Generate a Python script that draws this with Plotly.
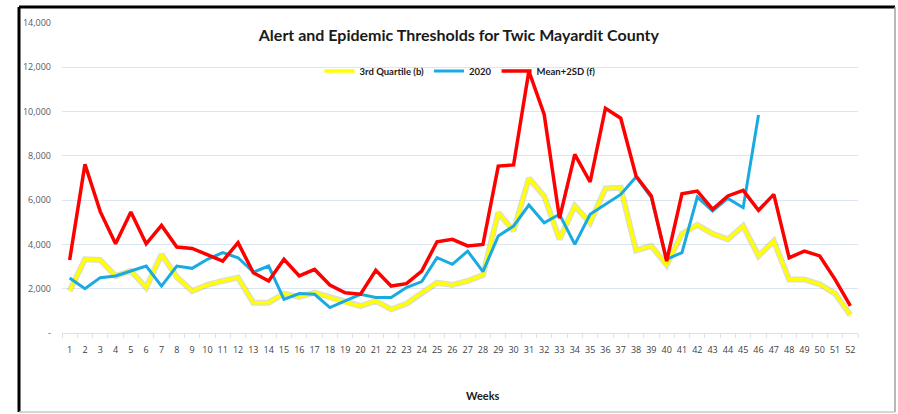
import plotly.graph_objects as go

weeks = list(range(1, 53))
week_labels = [str(w) for w in weeks]

third_quartile = [1900, 3330, 3300, 2575, 2800, 2050, 3550, 2530, 1900, 2170,
                  2350, 2500, 1370, 1370, 1780, 1630, 1820, 1600, 1370, 1220,
                  1450, 1070, 1320, 1820, 2270, 2170, 2350, 2620, 5430, 4610,
                  6990, 6190, 4230, 5740, 4980, 6530, 6560, 3730, 3930, 3070,
                  4480, 4880, 4480, 4230, 4830, 3480, 4150, 2420, 2420, 2200,
                  1780, 810]

y2020 = [2480, 2000, 2500, 2575, 2800, 3025, 2120, 3025, 2920, 3330,
         3630, 3400, 2750, 3025, 1520, 1780, 1750, 1150, 1450, 1750,
         1600, 1600, 2050, 2320, 3400, 3100, 3700, 2770, 4380, 4830,
         5780, 4980, 5360, 4000, 5360, 5810, 6260, 7050, 6110, 3330,
         3630, 6140, 5510, 6080, 5660, 9840]

mean_2sd = [3300, 7620, 5480, 4030, 5460, 4030, 4860, 3880, 3820, 3550,
            3250, 4080, 2720, 2350, 3330, 2575, 2870, 2170, 1820, 1750,
            2830, 2120, 2230, 2800, 4120, 4230, 3930, 4000, 7540, 7590,
            11830, 9870, 5180, 8070, 6820, 10150, 9700, 7090, 6190, 3250,
            6290, 6410, 5590, 6190, 6440, 5540, 6260, 3400, 3700, 3480,
            2420, 1220]

y_ticks = [0, 2000, 4000, 6000, 8000, 10000, 12000, 14000]
y_tick_labels = ["-", "2,000", "4,000", "6,000", "8,000", "10,000", "12,000", "14,000"]

fig = go.Figure()
# soft shadow under the yellow line
fig.add_trace(go.Scatter(x=weeks, y=third_quartile, mode="lines",
                         line=dict(color="rgba(120,120,90,0.25)", width=6),
                         showlegend=False, hoverinfo="skip"))
fig.add_trace(go.Scatter(x=weeks, y=third_quartile, mode="lines", name="3rd Quartile (b)",
                         line=dict(color="#FFFF00", width=3.5)))
fig.add_trace(go.Scatter(x=weeks[:len(y2020)], y=y2020, mode="lines", name="2020",
                         line=dict(color="#1AAAE2", width=3)))
fig.add_trace(go.Scatter(x=weeks, y=mean_2sd, mode="lines", name="Mean+2SD (f)",
                         line=dict(color="#FF0000", width=3.5)))

fig.update_layout(
    width=898, height=414,
    margin=dict(l=62, r=40, t=23, b=81),
    paper_bgcolor="white", plot_bgcolor="white",
    font=dict(family="Open Sans", color="#404040"),
    title=dict(text="<b>Alert and Epidemic Thresholds for Twic Mayardit County</b>",
               x=0.511, xanchor="center", y=0.915, yanchor="middle",
               font=dict(family="Lato", size=16, color="#1a1a1a")),
    legend=dict(orientation="h", x=0.5, xanchor="center", y=0.845, yanchor="middle",
                font=dict(family="Lato", size=9.5, color="#1a1a1a", weight="bold"),
                bgcolor="rgba(0,0,0,0)", itemwidth=30, tracegroupgap=0),
    showlegend=True,
)

fig.update_xaxes(range=[0.5, 52.5], tickmode="array", tickvals=weeks, ticktext=week_labels,
                 ticks="", showgrid=False, zeroline=False,
                 showline=True, linecolor="#D6E2F0", linewidth=1,
                 ticklabelstandoff=8,
                 tickfont=dict(size=9, color="#404040"),
                 minor=dict(tick0=0.5, dtick=1, ticks="outside", ticklen=4,
                            tickcolor="#D6E2F0", showgrid=False))
fig.update_yaxes(range=[0, 14000], tickmode="array", tickvals=y_ticks, ticktext=y_tick_labels,
                 showgrid=True, gridcolor="#DCE6F2", gridwidth=1, zeroline=False,
                 showline=False, ticks="", ticklabelstandoff=10,
                 tickfont=dict(size=9, color="#595959"))

fig.add_annotation(text="<b>Weeks</b>", xref="paper", yref="paper",
                   x=(483 - 62) / 796, y=(333 - 395) / 310, showarrow=False,
                   xanchor="center", yanchor="middle",
                   font=dict(family="Lato", size=11, color="#1a1a1a"))

# outer frame
fx0, fx1 = (19 - 62) / 796, (895 - 62) / 796
fy0, fy1 = (333 - 412) / 310, (333 - 7) / 310
fig.add_shape(type="line", xref="paper", yref="paper", x0=fx0, x1=fx0, y0=fy0, y1=fy1,
              line=dict(color="black", width=3))
fig.add_shape(type="line", xref="paper", yref="paper", x0=fx0, x1=fx1, y0=fy1, y1=fy1,
              line=dict(color="black", width=3))
fig.add_shape(type="line", xref="paper", yref="paper", x0=fx1, x1=fx1, y0=fy0, y1=fy1,
              line=dict(color="#A0A0A0", width=1.5))
fig.add_shape(type="line", xref="paper", yref="paper", x0=fx0, x1=fx1, y0=fy0, y1=fy0,
              line=dict(color="#C8C8C8", width=1.5))

fig.write_html("out.html", config={"displayModeBar": False},
               post_script="document.body.style.margin='0';document.body.style.overflow='hidden';")
